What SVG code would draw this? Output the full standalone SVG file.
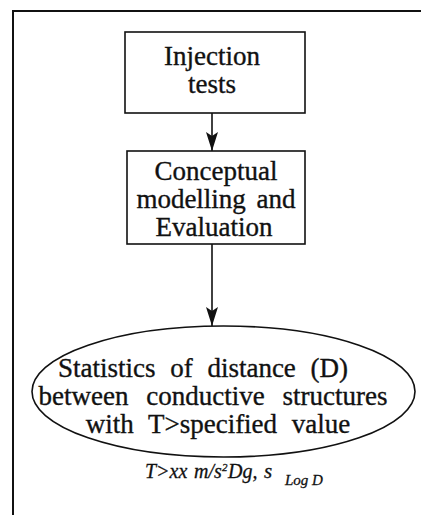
<svg xmlns="http://www.w3.org/2000/svg" width="421" height="515" viewBox="0 0 421 515">
  <style>
    .frame { stroke: #111; stroke-width: 2; fill: none; }
    .box { fill: #fff; stroke: #111; stroke-width: 1.6; }
    .edge { stroke: #111; stroke-width: 1.6; fill: none; }
    .lbl { font-family: "Liberation Serif", "Times New Roman", serif; font-size: 27px; fill: #111; stroke: #111; stroke-width: 0.35; text-anchor: middle; }
    .note { font-family: "Liberation Serif", "Times New Roman", serif; font-style: italic; fill: #111; stroke: #111; stroke-width: 0.3; }
  </style>
  <defs>
    <marker id="head" viewBox="0 0 19 12" refX="19" refY="6" markerWidth="19" markerHeight="12" markerUnits="userSpaceOnUse" orient="auto">
      <path d="M0,0 L4,6 L0,12 L19,6 Z" fill="#111"/>
    </marker>
  </defs>
  <rect width="421" height="515" fill="#fff"/>

  <!-- panel frame: top and left border only -->
  <path class="frame" d="M13,515 V11 H421"/>

  <g id="connectors">
    <line class="edge" x1="212" y1="113" x2="212" y2="151" marker-end="url(#head)"/>
    <line class="edge" x1="212" y1="244" x2="212" y2="326" marker-end="url(#head)"/>
  </g>

  <g id="injection-tests">
    <rect class="box" x="125" y="32" width="180" height="81"/>
    <text class="lbl" x="212" y="65">Injection</text>
    <text class="lbl" x="212" y="93">tests</text>
  </g>

  <g id="conceptual-modelling">
    <rect class="box" x="127" y="151" width="178" height="93"/>
    <text class="lbl" x="216" y="180">Conceptual</text>
    <text class="lbl" x="216" y="208" word-spacing="4">modelling and</text>
    <text class="lbl" x="214" y="236">Evaluation</text>
  </g>

  <g id="distance-statistics">
    <ellipse class="box" cx="223.5" cy="391.5" rx="191.5" ry="65.5"/>
    <text class="lbl" x="203" y="377" word-spacing="8">Statistics of distance (D)</text>
    <text class="lbl" x="213" y="405" word-spacing="11">between conductive structures</text>
    <text class="lbl" x="218" y="433" word-spacing="8">with T&gt;specified value</text>
  </g>

  <g id="result-note">
    <text class="note" x="145" y="478" font-size="20">T&gt;xx</text>
    <text class="note" x="194" y="478" font-size="20">m/s</text>
    <text class="note" x="222" y="471" font-size="11">2</text>
    <text class="note" x="228" y="478" font-size="20">Dg,</text>
    <text class="note" x="264" y="478" font-size="21">s</text>
    <text class="note" x="285" y="485" font-size="15">Log D</text>
  </g>
</svg>
